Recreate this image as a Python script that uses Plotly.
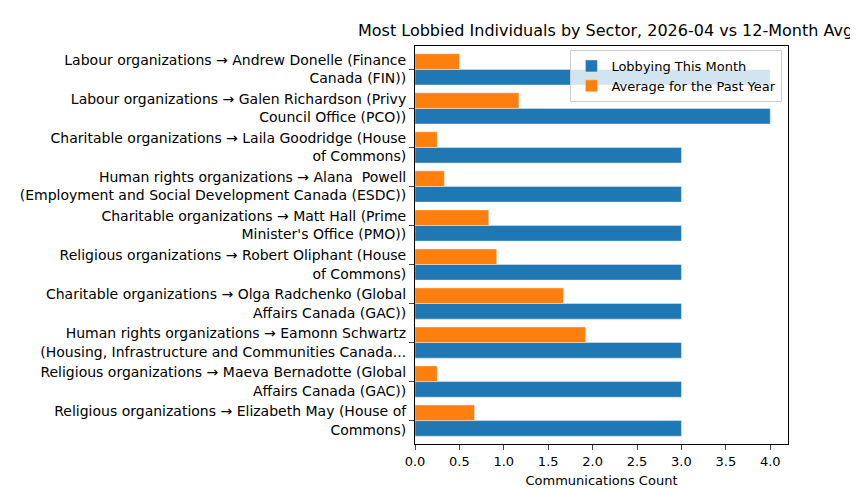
import plotly.graph_objects as go

labels = [
    "Labour organizations → Andrew Donelle (Finance<br>Canada (FIN))",
    "Labour organizations → Galen Richardson (Privy<br>Council Office (PCO))",
    "Charitable organizations → Laila Goodridge (House<br>of Commons)",
    "Human rights organizations → Alana  Powell<br>(Employment and Social Development Canada (ESDC))",
    "Charitable organizations → Matt Hall (Prime<br>Minister's Office (PMO))",
    "Religious organizations → Robert Oliphant (House<br>of Commons)",
    "Charitable organizations → Olga Radchenko (Global<br>Affairs Canada (GAC))",
    "Human rights organizations → Eamonn Schwartz<br>(Housing, Infrastructure and Communities Canada...",
    "Religious organizations → Maeva Bernadotte (Global<br>Affairs Canada (GAC))",
    "Religious organizations → Elizabeth May (House of<br>Commons)",
]
this_month = [4, 4, 3, 3, 3, 3, 3, 3, 3, 3]
past_avg = [0.5, 1.17, 0.25, 0.33, 0.83, 0.92, 1.67, 1.92, 0.25, 0.67]

r = lambda a: list(reversed(a))
fig = go.Figure()
fig.add_bar(y=r(labels), x=r(this_month), orientation="h", name="Lobbying This Month", marker_color="#1f77b4")
fig.add_bar(y=r(labels), x=r(past_avg), orientation="h", name="Average for the Past Year", marker_color="#ff7f0e")
fig.update_layout(
    width=858, height=490, barmode="group", bargap=0.2, bargroupgap=0,
    plot_bgcolor="white", paper_bgcolor="white",
    font=dict(family="DejaVu Sans", size=13, color="black"),
    margin=dict(l=400, r=78, t=38, b=52),
    legend=dict(x=0.985, y=0.99, xanchor="right", yanchor="top", bordercolor="#cccccc", borderwidth=1,
                bgcolor="rgba(255,255,255,0.8)", font=dict(size=13)),
    xaxis=dict(range=[0, 4.2], dtick=0.5, tickformat=".1f", showline=True, linecolor="black", mirror=True,
               ticks="outside", showgrid=False, zeroline=False, title=dict(text="Communications Count", font=dict(size=13), standoff=8)),
    yaxis=dict(showline=True, linecolor="black", mirror=True, ticks="outside", showgrid=False, range=[-0.6, 9.6],
               tickfont=dict(size=14)),
)
fig.add_annotation(text="Most Lobbied Individuals by Sector, 2026-04 vs 12-Month Avg", xref="paper", yref="paper",
                   x=(848 - 404) / 376, y=1.0, xanchor="right", yanchor="bottom", yshift=4,
                   showarrow=False, font=dict(size=16))
fig.write_html("out.html")
